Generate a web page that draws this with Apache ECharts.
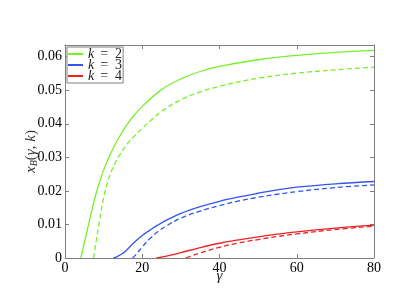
<!DOCTYPE html>
<html><head><meta charset="utf-8">
<script src="https://cdn.jsdelivr.net/npm/echarts@6/dist/echarts.min.js"></script>
<style>html,body{margin:0;padding:0;background:#fff}#c{width:407px;height:304px}</style>
</head><body><div id="c"></div>
<script>
// gamma values and x_B values
var k2SolidX = [4.1, 5, 6, 7, 8, 9, 10, 11, 12, 14, 16, 18, 20, 25, 30, 35, 40, 50, 60, 70, 80];
var k2SolidY = [0, 0.0045, 0.0095, 0.0145, 0.0190, 0.0228, 0.0262, 0.0290, 0.0316, 0.0360, 0.0397, 0.0427, 0.0452, 0.0502, 0.0534, 0.0556, 0.0571, 0.0591, 0.0604, 0.0613, 0.0619];
var k2DashX = [7.4, 8, 9, 10, 11, 12, 13, 14, 16, 18, 20, 22, 25, 30, 35, 40, 50, 60, 70, 80];
var k2DashY = [0, 0.0045, 0.0115, 0.0180, 0.0225, 0.0258, 0.0283, 0.0304, 0.0338, 0.0364, 0.0387, 0.0408, 0.0437, 0.0472, 0.0495, 0.0512, 0.0536, 0.0551, 0.0561, 0.0569];
var k3SolidX = [12.5, 13.5, 15, 16, 17.7, 20, 22, 24, 26.3, 30, 35, 40, 45, 50, 55, 60, 70, 80];
var k3SolidY = [0, 0.0004, 0.0014, 0.0024, 0.0044, 0.0067, 0.0083, 0.0098, 0.0113, 0.0133, 0.0153, 0.0169, 0.0182, 0.0193, 0.0203, 0.0211, 0.0221, 0.0228];
var k3DashX = [17.5, 18.5, 20, 22, 24, 26.3, 30, 35, 40, 45, 50, 55, 60, 70, 80];
var k3DashY = [0, 0.0012, 0.0033, 0.0058, 0.0078, 0.0096, 0.0119, 0.0140, 0.0156, 0.0170, 0.0181, 0.0190, 0.0198, 0.0210, 0.0218];
var k4SolidX = [23.7, 26, 28, 30, 35, 40, 45, 50, 55, 60, 70, 80];
var k4SolidY = [0, 0.0005, 0.0010, 0.0016, 0.0031, 0.0044, 0.0054, 0.0063, 0.0071, 0.0078, 0.0089, 0.0098];
var k4DashX = [31.3, 33, 35, 40, 45, 50, 55, 60, 70, 80];
var k4DashY = [0, 0.0007, 0.0015, 0.0032, 0.0045, 0.0055, 0.0064, 0.0072, 0.0085, 0.0095];
var xTicks = [0, 20, 40, 60, 80];
var yTicks = [0, 0.01, 0.02, 0.03, 0.04, 0.05, 0.06];

function zip(xs, ys) { return xs.map(function (x, i) { return [x, ys[i]]; }); }

var FONT = "'Liberation Serif', 'DejaVu Serif', serif";
var GREEN = '#78f028', BLUE = '#3355ee', RED = '#ee2222';
var FRAME = '#7f7f7f';

function mkSeries(name, xs, ys, color, dashed) {
  return {
    name: name, type: 'line', data: zip(xs, ys), symbol: 'none',
    smooth: 0.4, z: dashed ? 2 : 3,
    lineStyle: { color: color, width: 1.3, type: dashed ? [5, 3] : 'solid' },
    itemStyle: { color: color }
  };
}

var axisCommon = {
  axisLine: { show: true, onZero: false, lineStyle: { color: FRAME, width: 1 } },
  axisTick: { show: true, inside: true, length: 4, lineStyle: { color: FRAME } },
  splitLine: { show: false }
};

var chart = echarts.init(document.getElementById('c'), null, { renderer: 'canvas' });
chart.setOption({
  animation: false,
  backgroundColor: '#fff',
  grid: { left: 65, right: 33, top: 45, bottom: 46 },
  legend: {
    data: ['k = 2', 'k = 3', 'k = 4'],
    orient: 'vertical', left: 67, top: 47, icon: 'rect',
    backgroundColor: '#fff', borderColor: FRAME, borderWidth: 1, borderRadius: 0,
    padding: [0, 1, 0, 1], itemGap: -3, itemWidth: 15, itemHeight: 2,
    textStyle: { fontFamily: FONT, fontSize: 14, color: '#222', lineHeight: 11,
      rich: {
        i: { fontFamily: FONT, fontStyle: 'italic', fontSize: 14, lineHeight: 11, color: '#222' },
        e: { fontFamily: FONT, fontSize: 14, lineHeight: 11, color: '#222', padding: [0, 7, 0, 6] },
        n: { fontFamily: FONT, fontSize: 14, lineHeight: 11, color: '#222' }
      } },
    formatter: function (name) { return '{i|k}{e|=}{n|' + name.slice(4) + '}'; }
  },
  xAxis: [
    Object.assign({}, axisCommon, {
      type: 'value', min: 0, max: 80, interval: 20, position: 'bottom',
      axisLabel: { fontFamily: FONT, fontSize: 14, color: '#000', margin: 3, customValues: xTicks },
      axisTick: Object.assign({}, axisCommon.axisTick, { customValues: xTicks }),
      name: 'γ', nameLocation: 'middle', nameGap: 11, nameMoveOverlap: false,
      nameTextStyle: { fontFamily: FONT, fontStyle: 'italic', fontSize: 15, color: '#222' }
    }),
    Object.assign({}, axisCommon, {
      type: 'value', min: 0, max: 80, interval: 20, position: 'top',
      axisLabel: { show: false },
      axisTick: Object.assign({}, axisCommon.axisTick, { customValues: xTicks })
    })
  ],
  yAxis: [
    Object.assign({}, axisCommon, {
      type: 'value', min: 0, max: 0.0635, position: 'left',
      axisLabel: { fontFamily: FONT, fontSize: 14, color: '#000', margin: 3, customValues: yTicks,
        formatter: function (v) { return v === 0 ? '0' : v.toFixed(2); } },
      axisTick: Object.assign({}, axisCommon.axisTick, { customValues: yTicks }),
      name: '{i|x}{s|B}{n|(}{i|γ}{n|, }{i|k}{n|)}', nameLocation: 'middle', nameGap: 26, nameRotate: 90,
      nameMoveOverlap: false,
      nameTextStyle: { fontFamily: FONT, fontSize: 15, color: '#333',
        rich: {
          i: { fontFamily: FONT, fontStyle: 'italic', fontSize: 15, color: '#333' },
          s: { fontFamily: FONT, fontStyle: 'italic', fontSize: 10, color: '#333', padding: [6, 0, 0, 0] },
          n: { fontFamily: FONT, fontSize: 15, color: '#333' }
        } }
    }),
    Object.assign({}, axisCommon, {
      type: 'value', min: 0, max: 0.0635, position: 'right',
      axisLabel: { show: false },
      axisTick: Object.assign({}, axisCommon.axisTick, { customValues: yTicks })
    })
  ],
  series: [
    mkSeries('k = 2', k2SolidX, k2SolidY, GREEN, false),
    mkSeries('k = 3', k3SolidX, k3SolidY, BLUE, false),
    mkSeries('k = 4', k4SolidX, k4SolidY, RED, false),
    mkSeries('k = 2 (dashed)', k2DashX, k2DashY, GREEN, true),
    mkSeries('k = 3 (dashed)', k3DashX, k3DashY, BLUE, true),
    mkSeries('k = 4 (dashed)', k4DashX, k4DashY, RED, true)
  ]
});
</script></body></html>
